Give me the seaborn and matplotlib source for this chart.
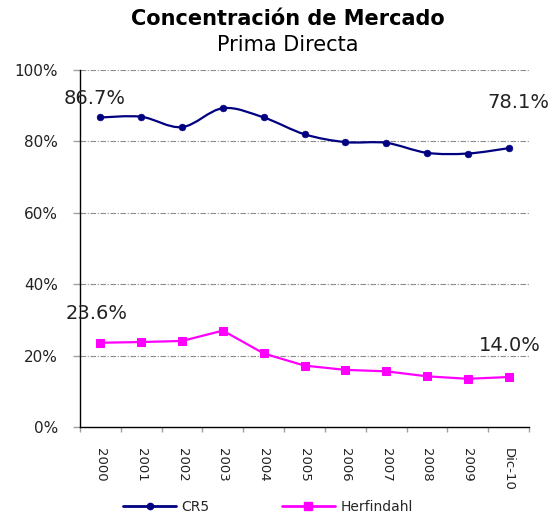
import numpy as np
import pandas as pd
import matplotlib
matplotlib.use("Agg")
import matplotlib.pyplot as plt
from matplotlib.path import Path
from matplotlib.patches import PathPatch
from matplotlib.lines import Line2D
from matplotlib.ticker import FixedLocator, NullFormatter
import seaborn as sns

# Market concentration indicators, direct premiums
periods = ["2000", "2001", "2002", "2003", "2004", "2005",
           "2006", "2007", "2008", "2009", "Dic-10"]
cr5 = [86.7, 86.9, 84.0, 89.3, 86.7, 82.0, 79.8, 79.6, 76.8, 76.6, 78.1]
herfindahl = [23.6, 23.8, 24.1, 27.0, 20.6, 17.2, 16.0, 15.6, 14.2, 13.5, 14.0]
y_ticks = [0, 20, 40, 60, 80, 100]

CR5_COLOR = "#000080"
HERF_COLOR = "#FF00FF"

df = pd.DataFrame({"x": np.arange(len(periods)), "periodo": periods,
                   "CR5": cr5, "Herfindahl": herfindahl})

sns.set_theme(style="white")
plt.rcParams["font.family"] = ["DejaVu Sans"]

fig = plt.figure(figsize=(5.53, 5.13), dpi=100)
ax = fig.add_axes([80 / 553, 1 - 427 / 513, 449 / 553, 357 / 513])

# Horizontal dash-dot grid
for v in y_ticks[1:]:
    ax.axhline(v, color="#8c8c8c", lw=0.8, ls=(0, (5, 1.5, 1, 1.5)), zorder=0)

# CR5: smoothed curve (Catmull-Rom as cubic Bezier segments) through the points
pts = df[["x", "CR5"]].to_numpy(dtype=float)
ext = np.vstack([pts[0], pts, pts[-1]])
verts = [tuple(pts[0])]
codes = [Path.MOVETO]
for i in range(1, len(ext) - 2):
    p0, p1, p2, p3 = ext[i - 1], ext[i], ext[i + 1], ext[i + 2]
    c1 = p1 + (p2 - p0) / 6.0
    c2 = p2 - (p3 - p1) / 6.0
    verts += [tuple(c1), tuple(c2), tuple(p2)]
    codes += [Path.CURVE4] * 3
ax.add_patch(PathPatch(Path(verts, codes), facecolor="none",
                       edgecolor=CR5_COLOR, lw=1.6, zorder=3))
sns.scatterplot(data=df, x="x", y="CR5", ax=ax, color=CR5_COLOR,
                marker="o", s=24, edgecolor=CR5_COLOR, zorder=4, legend=False)

# Herfindahl: straight segments with square markers
sns.lineplot(data=df, x="x", y="Herfindahl", ax=ax, color=HERF_COLOR,
             lw=1.6, marker="s", markersize=5.4, markeredgecolor=HERF_COLOR,
             zorder=4, legend=False)

# End-point value labels
ax.text(df["x"].iloc[0] - 0.15, 91.9, f"{cr5[0]:.1f}%", ha="center",
        va="center", fontsize=14, color="#222222")
ax.text(df["x"].iloc[-1] + 0.25, 91.0, f"{cr5[-1]:.1f}%", ha="center",
        va="center", fontsize=14, color="#222222")
ax.text(df["x"].iloc[0] - 0.1, 31.7, f"{herfindahl[0]:.1f}%", ha="center",
        va="center", fontsize=14, color="#222222")
ax.text(df["x"].iloc[-1] + 0.03, 22.7, f"{herfindahl[-1]:.1f}%", ha="center",
        va="center", fontsize=14, color="#222222")

ax.set_xlim(-0.5, len(periods) - 0.5)
ax.set_ylim(0, 100)
ax.set_yticks(y_ticks)
ax.set_yticklabels([f"{v}%" for v in y_ticks], fontsize=11, color="#222222")

# Category labels at centers, tick marks at category boundaries
ax.set_xticks(df["x"])
ax.set_xticklabels(periods, rotation=270, fontsize=9.5, color="#222222")
ax.tick_params(axis="x", which="major", length=0, pad=15)
ax.xaxis.set_minor_locator(FixedLocator(np.arange(-0.5, len(periods), 1.0)))
ax.xaxis.set_minor_formatter(NullFormatter())
ax.tick_params(axis="x", which="minor", length=3.6, width=1, color="#a0a0a0",
               direction="out", bottom=True)
ax.tick_params(axis="y", length=5, width=1, color="#a0a0a0", direction="out",
               left=True, pad=11)

ax.set_xlabel("")
ax.set_ylabel("")
for side in ("top", "right"):
    ax.spines[side].set_visible(False)
for side in ("left", "bottom"):
    ax.spines[side].set_color("black")
    ax.spines[side].set_linewidth(1.0)

fig.text(288 / 553, 1 - 19 / 513, "Concentración de Mercado", ha="center",
         va="center", fontsize=15, fontweight="bold", color="black")
fig.text(288 / 553, 1 - 45 / 513, "Prima Directa", ha="center",
         va="center", fontsize=15, color="black")

handles = [
    Line2D([], [], color=CR5_COLOR, lw=2, marker="o", markersize=4.5),
    Line2D([], [], color=HERF_COLOR, lw=2, marker="s", markersize=5.4),
]
fig.legend(handles, ["CR5", "Herfindahl"], loc="center",
           bbox_to_anchor=(268 / 553, 1 - 507 / 513), ncol=2, frameon=False,
           fontsize=10, handlelength=3.8, columnspacing=5.2, handletextpad=0.4)

fig.savefig("out.png", dpi=100)
